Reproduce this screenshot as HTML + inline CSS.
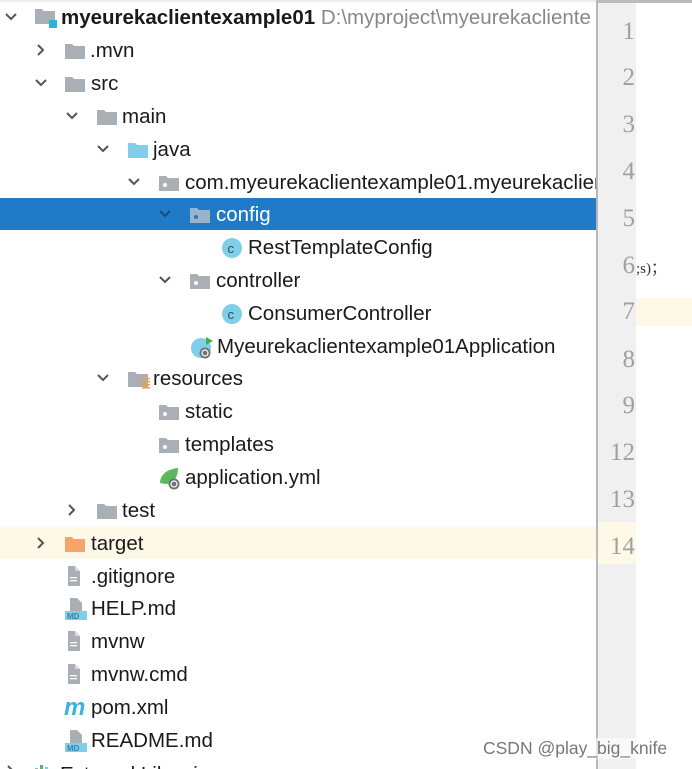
<!DOCTYPE html>
<html><head><meta charset="utf-8"><style>
html,body{margin:0;width:692px;height:769px;overflow:hidden;}
body{background:#fff;position:relative;font-family:"Liberation Sans","DejaVu Sans",sans-serif;}
.r{position:absolute;left:0;height:33px;width:597px;overflow:hidden;}
.t{position:absolute;font-size:20.5px;color:#1a1a1a;white-space:nowrap;line-height:33px;top:0;}
.ch{position:absolute;top:9px;width:14px;height:14px;}
.ic{position:absolute;}
.ln{position:absolute;right:57px;font-family:"Liberation Serif",serif;font-size:25px;color:#a0a0a0;}
</style></head><body>
<svg width="0" height="0" style="position:absolute">
<defs>
<symbol id="down" viewBox="0 0 14 14"><polyline points="2,4 7,9 12,4" fill="none" stroke="#555" stroke-width="2"/></symbol>
<symbol id="right" viewBox="0 0 14 14"><polyline points="4,2 9,7 4,12" fill="none" stroke="#555" stroke-width="2"/></symbol>
<symbol id="fold" viewBox="0 0 22 18"><path d="M1 2h7l2 2h11v13H1z" fill="#a9afb4"/></symbol>
<symbol id="pkg" viewBox="0 0 22 18"><path d="M1 2h7l2 2h11v13H1z" fill="#a9afb4"/><circle cx="7" cy="11" r="2" fill="#fff"/></symbol>
<symbol id="file" viewBox="0 0 18 22"><path d="M4 1h7l5 5v15H4z" fill="#a9afb4"/><path d="M11 1v5h5" fill="#d6d9dc"/><rect x="6" y="12" width="7" height="1.3" fill="#fff"/><rect x="6" y="15" width="7" height="1.3" fill="#fff"/></symbol>
<symbol id="md" viewBox="0 0 24 24"><path d="M6 1h7l5 5v10H6z" fill="#a9afb4"/><rect x="1" y="14" width="22" height="9" fill="#7fcfe8"/><text x="3" y="22" font-size="8" font-family="Liberation Sans" fill="#3d7fa8" font-weight="bold">MD</text></symbol>
<symbol id="cls" viewBox="0 0 22 22"><circle cx="11" cy="11" r="10" fill="#7fcfe8"/><text x="6.5" y="16" font-size="13" font-family="Liberation Sans" fill="#2c4a5a">c</text></symbol>
</defs></svg>

<div style="position:absolute;left:0;top:0;width:597px;height:2px;background:#eee"></div>

<div style="position:absolute;left:0;top:198px;width:597px;height:32px;background:#1f7bc7"></div>
<div style="position:absolute;left:0;top:527px;width:597px;height:32px;background:#fdf9e6"></div>

<div class="r" style="top:1px">
<svg class="ch" style="left:4px"><use href="#down"/></svg>
<svg class="ic" style="left:34px;top:6px" width="24" height="22" viewBox="0 0 24 22"><path d="M1 2h7l2 2h11v13H1z" fill="#a9afb4"/><rect x="15" y="13" width="8" height="8" fill="#2eb1e0"/></svg>
<span class="t" style="left:61px;font-weight:bold">myeurekaclientexample01 <span style="font-weight:normal;color:#888">D:\myproject\myeurekacliente</span></span>
</div>
<div class="r" style="top:34px"><svg class="ch" style="left:34px"><use href="#right"/></svg><svg class="ic" style="left:64px;top:8px" width="22" height="18"><use href="#fold"/></svg><span class="t" style="left:90px">.mvn</span></div>
<div class="r" style="top:67px"><svg class="ch" style="left:34px"><use href="#down"/></svg><svg class="ic" style="left:64px;top:8px" width="22" height="18"><use href="#fold"/></svg><span class="t" style="left:91px">src</span></div>
<div class="r" style="top:100px"><svg class="ch" style="left:65px"><use href="#down"/></svg><svg class="ic" style="left:96px;top:8px" width="22" height="18"><use href="#fold"/></svg><span class="t" style="left:122px">main</span></div>
<div class="r" style="top:133px"><svg class="ch" style="left:96px"><use href="#down"/></svg><svg class="ic" style="left:127px;top:8px" width="22" height="18" viewBox="0 0 22 18"><path d="M1 2h7l2 2h11v13H1z" fill="#7fcfe8"/></svg><span class="t" style="left:153px">java</span></div>
<div class="r" style="top:166px"><svg class="ch" style="left:127px"><use href="#down"/></svg><svg class="ic" style="left:158px;top:8px" width="22" height="18"><use href="#pkg"/></svg><span class="t" style="left:185px">com.myeurekaclientexample01.myeurekaclier</span></div>
<div class="r" style="top:198px"><svg class="ch" style="left:158px"><polyline points="2,4 7,9 12,4" fill="none" stroke="#1a4d7a" stroke-width="2"/></svg><svg class="ic" style="left:189px;top:8px" width="22" height="18" viewBox="0 0 22 18"><path d="M1 2h7l2 2h11v13H1z" fill="#9ab3c8"/><circle cx="7" cy="11" r="2" fill="#1f7bc7"/></svg><span class="t" style="left:216px;color:#fff">config</span></div>
<div class="r" style="top:231px"><svg class="ic" style="left:221px;top:6px" width="22" height="22"><use href="#cls"/></svg><span class="t" style="left:248px">RestTemplateConfig</span></div>
<div class="r" style="top:264px"><svg class="ch" style="left:158px"><use href="#down"/></svg><svg class="ic" style="left:189px;top:8px" width="22" height="18"><use href="#pkg"/></svg><span class="t" style="left:216px">controller</span></div>
<div class="r" style="top:297px"><svg class="ic" style="left:221px;top:6px" width="22" height="22"><use href="#cls"/></svg><span class="t" style="left:248px">ConsumerController</span></div>
<div class="r" style="top:330px"><svg class="ic" style="left:190px;top:5px" width="26" height="26" viewBox="0 0 26 26"><circle cx="11" cy="13" r="10" fill="#7fcfe8"/><polygon points="16,2 23,6 16,10" fill="#3bb54a"/><circle cx="15" cy="18" r="5.5" fill="#6c7378"/><circle cx="15" cy="18" r="3" fill="none" stroke="#fff" stroke-width="1.2"/></svg><span class="t" style="left:217px">Myeurekaclientexample01Application</span></div>
<div class="r" style="top:362px"><svg class="ch" style="left:96px"><use href="#down"/></svg><svg class="ic" style="left:127px;top:8px" width="24" height="20" viewBox="0 0 24 20"><path d="M1 2h7l2 2h11v13H1z" fill="#a9afb4"/><rect x="15" y="8" width="8" height="1.5" fill="#e8a33c"/><rect x="15" y="11" width="8" height="1.5" fill="#e8a33c"/><rect x="15" y="14" width="8" height="1.5" fill="#e8a33c"/><rect x="15" y="17" width="8" height="1.5" fill="#e8a33c"/></svg><span class="t" style="left:153px">resources</span></div>
<div class="r" style="top:395px"><svg class="ic" style="left:158px;top:8px" width="22" height="18"><use href="#pkg"/></svg><span class="t" style="left:185px">static</span></div>
<div class="r" style="top:428px"><svg class="ic" style="left:158px;top:8px" width="22" height="18"><use href="#pkg"/></svg><span class="t" style="left:185px">templates</span></div>
<div class="r" style="top:461px"><svg class="ic" style="left:157px;top:4px" width="26" height="26" viewBox="0 0 26 26"><path d="M3 18C3 10 10 4 21 3c0 10-5 16-13 16z" fill="#5cb85c"/><circle cx="17" cy="19" r="5.5" fill="#6c7378"/><circle cx="17" cy="19" r="3" fill="none" stroke="#fff" stroke-width="1.2"/></svg><span class="t" style="left:185px">application.yml</span></div>
<div class="r" style="top:494px"><svg class="ch" style="left:65px"><use href="#right"/></svg><svg class="ic" style="left:96px;top:8px" width="22" height="18"><use href="#fold"/></svg><span class="t" style="left:122px">test</span></div>
<div class="r" style="top:527px"><svg class="ch" style="left:34px"><use href="#right"/></svg><svg class="ic" style="left:64px;top:8px" width="22" height="18" viewBox="0 0 22 18"><path d="M1 2h7l2 2h11v13H1z" fill="#f6a46a"/></svg><span class="t" style="left:91px">target</span></div>
<div class="r" style="top:560px"><svg class="ic" style="left:64px;top:5px" width="18" height="22"><use href="#file"/></svg><span class="t" style="left:91px">.gitignore</span></div>
<div class="r" style="top:592px"><svg class="ic" style="left:64px;top:5px" width="24" height="24"><use href="#md"/></svg><span class="t" style="left:91px">HELP.md</span></div>
<div class="r" style="top:625px"><svg class="ic" style="left:64px;top:5px" width="18" height="22"><use href="#file"/></svg><span class="t" style="left:91px">mvnw</span></div>
<div class="r" style="top:658px"><svg class="ic" style="left:64px;top:5px" width="18" height="22"><use href="#file"/></svg><span class="t" style="left:91px">mvnw.cmd</span></div>
<div class="r" style="top:691px"><span class="t" style="left:64px;color:#3fb0e0;font-style:italic;font-weight:bold;font-size:24px">m</span><span class="t" style="left:91px">pom.xml</span></div>
<div class="r" style="top:724px"><svg class="ic" style="left:64px;top:5px" width="24" height="24"><use href="#md"/></svg><span class="t" style="left:91px">README.md</span></div>
<div class="r" style="top:752px;height:17px"><svg class="ch" style="left:4px;top:12px"><use href="#right"/></svg><svg class="ic" style="left:34px;top:12px" width="20" height="16"><rect x="1" y="4" width="3" height="12" fill="#a9afb4"/><rect x="6" y="1" width="3" height="15" fill="#5cb85c"/><rect x="11" y="3" width="3" height="13" fill="#7fcfe8"/></svg><span class="t" style="left:60px;top:6px">External Libraries</span></div>

<div style="position:absolute;left:596px;top:0;width:2px;height:769px;background:#b8b8b8"></div>
<div style="position:absolute;left:598px;top:0;width:38px;height:769px;background:#f0f0f0"></div>
<div style="position:absolute;left:598px;top:522px;width:38px;height:42px;background:#fdf9e6"></div>
<div style="position:absolute;left:636px;top:298px;width:56px;height:28px;background:#fdf9e6"></div>
<div style="position:absolute;left:596px;top:0;width:96px;height:3px;background:#bbb"></div>

<div class="ln" style="top:18px">1</div>
<div class="ln" style="top:64px">2</div>
<div class="ln" style="top:111px">3</div>
<div class="ln" style="top:158px">4</div>
<div class="ln" style="top:205px">5</div>
<div class="ln" style="top:252px">6</div>
<div class="ln" style="top:298px">7</div>
<div class="ln" style="top:346px">8</div>
<div class="ln" style="top:392px">9</div>
<div class="ln" style="top:439px">12</div>
<div class="ln" style="top:486px">13</div>
<div class="ln" style="top:533px">14</div>
<div style="position:absolute;left:636px;top:257px;font-family:'Liberation Serif',serif;font-size:15px;color:#333">;s)；</div>

<div style="position:absolute;left:483px;top:738px;font-size:17.5px;color:#777;background:rgba(255,255,255,0.6)">CSDN @play_big_knife</div>
</body></html>
